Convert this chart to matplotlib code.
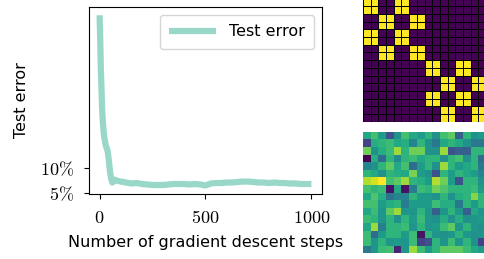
import numpy as np
import matplotlib
matplotlib.use('Agg')
import matplotlib.pyplot as plt
from matplotlib.ticker import FixedLocator, FixedFormatter

plt.rcParams['mathtext.fontset'] = 'cm'
plt.rcParams['font.family'] = 'DejaVu Sans'

# test error curve
steps = [0, 3, 6, 9, 12, 16, 20, 25, 30, 38, 44, 50, 55, 60, 65, 72, 80, 90, 100,
         125, 150, 175, 200, 225, 250, 275, 300, 325, 350, 375, 400, 425, 450, 475,
         500, 525, 550, 575, 600, 625, 650, 675, 700, 725, 750, 775, 800, 825, 850,
         875, 900, 925, 950, 975, 1000]
test_error = [0.41, 0.36, 0.30, 0.26, 0.22, 0.19, 0.17, 0.155, 0.145, 0.135, 0.115,
              0.09, 0.078, 0.071, 0.073, 0.077, 0.075, 0.074, 0.073,
              0.071, 0.069, 0.070, 0.068, 0.067, 0.066, 0.066, 0.066, 0.067, 0.068,
              0.068, 0.068, 0.067, 0.068, 0.067,
              0.065, 0.069, 0.070, 0.070, 0.071, 0.071, 0.072, 0.073, 0.073, 0.072,
              0.071, 0.071, 0.070, 0.071, 0.070,
              0.070, 0.069, 0.069, 0.068, 0.068, 0.068]
y_ticks = [0.05, 0.10]
y_ticklabels = [r'$5\%$', r'$10\%$']
x_ticks = [0, 500, 1000]
x_ticklabels = [r'$0$', r'$500$', r'$1000$']

# block structure matrix (top right)
block_rows = [
    '1100110000000000',
    '1100110000000000',
    '0011001100000000',
    '0011001100000000',
    '1100110000000000',
    '1100110000000000',
    '0011001100000000',
    '0011001100000000',
    '0000000011001100',
    '0000000011001100',
    '0000000000110011',
    '0000000000110011',
    '0000000011001100',
    '0000000011001100',
    '0000000000110011',
    '0000000000110011',
]

# noisy matrix (bottom right)
noise_rows = [
    [0.60, 0.70, 0.55, 0.25, 0.50, 0.70, 0.60, 0.55, 0.65, 0.50, 0.70, 0.75, 0.30, 0.65, 0.50, 0.55],
    [0.20, 0.62, 0.65, 0.68, 0.60, 0.62, 0.45, 0.65, 0.50, 0.40, 0.60, 0.65, 0.60, 0.50, 0.40, 0.40],
    [0.78, 0.50, 0.62, 0.68, 0.85, 0.65, 0.78, 0.78, 0.50, 0.50, 0.85, 0.25, 0.30, 0.30, 0.65, 0.65],
    [0.00, 0.62, 0.35, 0.65, 0.48, 0.65, 0.68, 0.60, 0.65, 0.65, 0.50, 0.65, 0.70, 0.50, 0.65, 0.35],
    [0.45, 0.50, 0.65, 0.75, 0.60, 0.70, 0.35, 0.55, 0.65, 0.50, 0.85, 0.65, 0.55, 0.60, 0.65, 0.40],
    [0.65, 0.60, 0.50, 0.65, 0.62, 0.60, 0.80, 0.55, 0.50, 0.25, 0.65, 0.55, 0.65, 0.60, 0.55, 0.45],
    [0.88, 0.93, 1.00, 0.70, 0.75, 0.85, 0.65, 0.62, 0.55, 0.88, 0.78, 0.55, 0.25, 0.65, 0.65, 0.50],
    [0.70, 0.65, 0.68, 0.05, 0.60, 0.05, 0.42, 0.68, 0.65, 0.78, 0.72, 0.65, 0.65, 0.65, 0.68, 0.55],
    [0.60, 0.72, 0.62, 0.38, 0.45, 0.45, 0.65, 0.55, 0.55, 0.50, 0.65, 0.50, 0.62, 0.65, 0.82, 0.65],
    [0.70, 0.70, 0.55, 0.62, 0.65, 0.42, 0.55, 0.55, 0.55, 0.68, 0.62, 0.62, 0.40, 0.65, 0.55, 0.65],
    [0.60, 0.68, 0.52, 0.75, 0.85, 0.52, 0.52, 0.65, 0.52, 0.30, 0.52, 0.65, 0.52, 0.30, 0.60, 0.52],
    [0.68, 0.65, 0.52, 0.65, 0.50, 0.65, 0.55, 0.68, 0.52, 0.50, 0.62, 0.50, 0.62, 0.50, 0.52, 0.55],
    [0.60, 0.85, 0.42, 0.65, 0.65, 0.68, 0.52, 0.65, 0.52, 0.55, 0.68, 0.75, 0.52, 0.65, 0.52, 0.50],
    [0.68, 0.35, 0.55, 0.65, 0.65, 0.55, 0.68, 0.05, 0.65, 0.52, 0.50, 0.52, 0.65, 0.52, 0.50, 0.52],
    [0.68, 0.52, 0.65, 0.52, 0.55, 0.52, 0.68, 0.20, 0.25, 0.65, 0.52, 0.68, 0.52, 0.65, 0.50, 0.20],
    [0.40, 0.52, 0.68, 0.70, 0.10, 0.52, 0.85, 0.68, 0.55, 0.65, 0.75, 0.75, 0.75, 0.68, 0.60, 0.55],
]

fig = plt.figure(figsize=(4.85, 2.59), dpi=100)

ax = fig.add_axes([0.1835, 0.251, 0.4804, 0.723])
ax.plot(steps, test_error, color='#99d8c9', lw=4.5, label='Test error', solid_capstyle='butt')
ax.yaxis.set_major_locator(FixedLocator(y_ticks))
ax.yaxis.set_major_formatter(FixedFormatter(y_ticklabels))
ax.xaxis.set_major_locator(FixedLocator(x_ticks))
ax.xaxis.set_major_formatter(FixedFormatter(x_ticklabels))
ax.tick_params(axis='x', labelsize=13, pad=7)
ax.tick_params(axis='y', labelsize=13, pad=7)
ax.set_xlabel('Number of gradient descent steps', fontsize=11.5, labelpad=6)
ax.set_ylabel('Test error', fontsize=11.5, labelpad=8)
ax.legend(loc='upper right', fontsize=11.5, handlelength=2.9, borderpad=0.6)

block = np.array([[int(c) for c in r] for r in block_rows])
ax_top = fig.add_axes([0.7485, 0.530, 0.2536, 0.4757])
ax_top.pcolormesh(block, cmap='viridis', edgecolors='k', linewidth=0.6)
ax_top.invert_yaxis()
ax_top.axis('off')

noise = np.array(noise_rows)
ax_bot = fig.add_axes([0.7485, 0.022, 0.2536, 0.4695])
ax_bot.pcolormesh(noise, cmap='viridis', vmin=0, vmax=1)
ax_bot.invert_yaxis()
ax_bot.axis('off')

fig.savefig('out.png', dpi=100)
